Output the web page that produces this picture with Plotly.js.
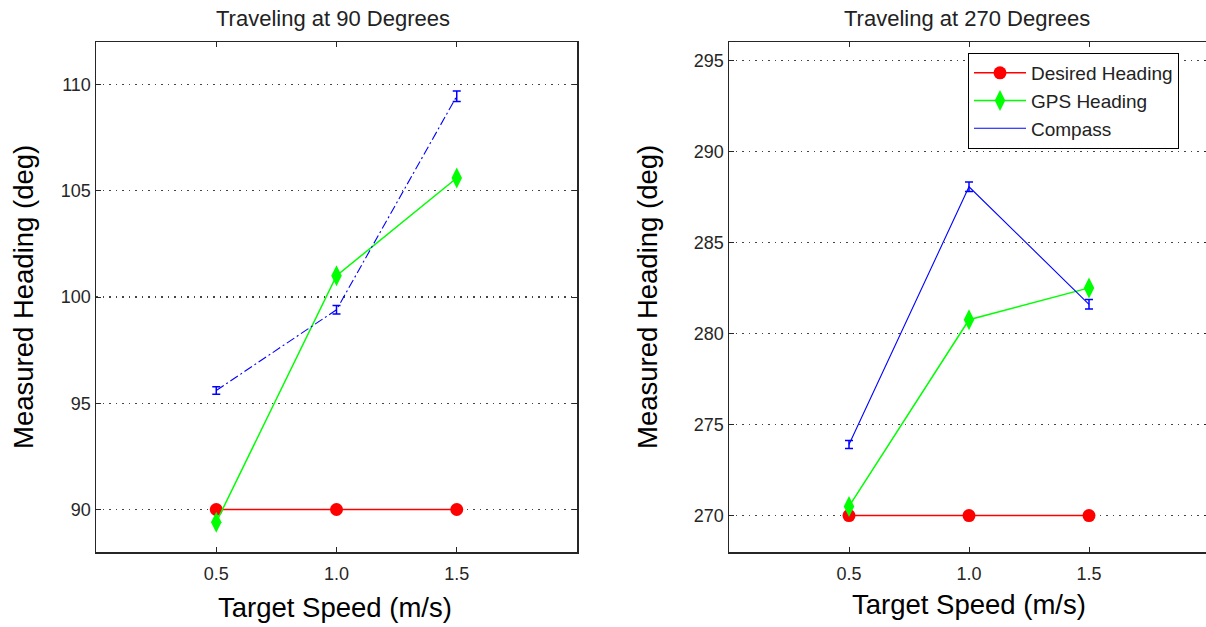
<!DOCTYPE html>
<html>
<head>
<meta charset="utf-8">
<script src="https://cdn.plot.ly/plotly-3.0.1.min.js"></script>
<style>
  html, body { margin: 0; padding: 0; background: #fff; overflow: hidden; }
  #chart { width: 1212px; height: 627px; }
</style>
</head>
<body>
<div id="chart"></div>
<script>
// Target speeds (m/s)
const speeds = [0.5, 1.0, 1.5];
const speedTickLabels = ['0.5', '1.0', '1.5'];

// Traveling at 90 degrees
const desired90 = [90, 90, 90];
const gps90 = [89.4, 101.0, 105.6];
const compass90 = [95.6, 99.4, 109.45];
const compass90Err = [0.18, 0.2, 0.25];

// Traveling at 270 degrees
const desired270 = [270, 270, 270];
const gps270 = [270.5, 280.75, 282.5];
const compass270 = [273.9, 288.05, 281.6];
const compass270Err = [0.22, 0.26, 0.26];

const W = 1212, H = 627;
const yDom = [(H - 552) / H, (H - 42) / H];

const RED = '#ff0000', GREEN = '#00ff00', BLUE = '#0000ff';
const FONT = 'Liberation Sans, Arial, sans-serif';

function series(xa, ya, desired, gps, compass, err, compassDash, legend) {
  return [
    { x: speeds, y: desired, xaxis: xa, yaxis: ya, type: 'scatter', mode: 'lines+markers',
      name: 'Desired Heading', showlegend: legend,
      line: { color: RED, width: 1.5 }, marker: { symbol: 'circle', size: 13, color: RED } },
    { x: speeds, y: gps, xaxis: xa, yaxis: ya, type: 'scatter', mode: 'lines+markers',
      name: 'GPS Heading', showlegend: legend,
      line: { color: GREEN, width: 1.5 }, marker: { symbol: 'diamond-tall', size: 15, color: GREEN } },
    { x: speeds, y: compass, xaxis: xa, yaxis: ya, type: 'scatter', mode: 'lines',
      name: 'Compass', showlegend: legend,
      line: { color: BLUE, width: 1.1, dash: compassDash },
      error_y: { type: 'data', array: err, visible: true, color: BLUE, thickness: 1.5, width: 4 } }
  ];
}

const data = [].concat(
  series('x', 'y', desired90, gps90, compass90, compass90Err, '9px,3px,2px,3px', false),
  series('x2', 'y2', desired270, gps270, compass270, compass270Err, 'solid', true)
);

const tickFont = { family: FONT, size: 18, color: '#262626' };

function xAxis(domain, anchor) {
  return {
    domain: domain, anchor: anchor, range: [0, 2],
    tickvals: speeds, ticktext: speedTickLabels,
    ticks: 'inside', ticklen: 5, tickcolor: '#262626', tickwidth: 1,
    ticklabelstandoff: 5,
    showline: true, linecolor: '#262626', linewidth: 1.5, mirror: 'ticks',
    showgrid: false, zeroline: false, tickfont: tickFont
  };
}
function yAxis(domain, anchor, range) {
  return {
    domain: domain, anchor: anchor, range: range, dtick: 5,
    ticks: 'inside', ticklen: 5, tickcolor: '#262626', tickwidth: 1,
    showline: true, linecolor: '#262626', linewidth: 1.5, mirror: 'ticks',
    showgrid: true, gridcolor: '#444444', griddash: '1.5px,5px', gridwidth: 1.2,
    zeroline: false, tickfont: tickFont
  };
}

const titleFont = { family: FONT, size: 22, color: '#222' };
const axisTitleFont = { family: FONT, size: 27.5, color: '#000' };

function note(text, x, y, font, angle) {
  return { text: text, x: x / W, y: 1 - y / H, xref: 'paper', yref: 'paper',
    xanchor: 'center', yanchor: 'middle', showarrow: false, font: font, textangle: angle || 0 };
}

const layout = {
  width: W, height: H,
  margin: { l: 0, r: 0, t: 0, b: 0 },
  paper_bgcolor: '#ffffff', plot_bgcolor: '#ffffff',
  xaxis: xAxis([96 / W, 577 / W], 'y'),
  yaxis: yAxis(yDom, 'x', [88, 112]),
  xaxis2: xAxis([729 / W, 1209 / W], 'y2'),
  yaxis2: yAxis(yDom, 'x2', [268, 296]),
  showlegend: true,
  legend: {
    x: 968 / W, y: 1 - 53 / H, xanchor: 'left', yanchor: 'top',
    bgcolor: '#ffffff', bordercolor: '#000000', borderwidth: 1,
    font: { family: FONT, size: 19, color: '#222' },
    itemwidth: 52, tracegroupgap: 0
  },
  annotations: [
    note('Traveling at 90 Degrees', 333, 18, titleFont),
    note('Traveling at 270 Degrees', 967, 18, titleFont),
    note('Target Speed (m/s)', 335, 607, axisTitleFont),
    note('Target Speed (m/s)', 969, 604, axisTitleFont),
    note('Measured Heading (deg)', 24, 297, axisTitleFont, -90),
    note('Measured Heading (deg)', 648, 297, axisTitleFont, -90)
  ]
};

Plotly.newPlot('chart', data, layout, { displayModeBar: false, staticPlot: true });
</script>
</body>
</html>
